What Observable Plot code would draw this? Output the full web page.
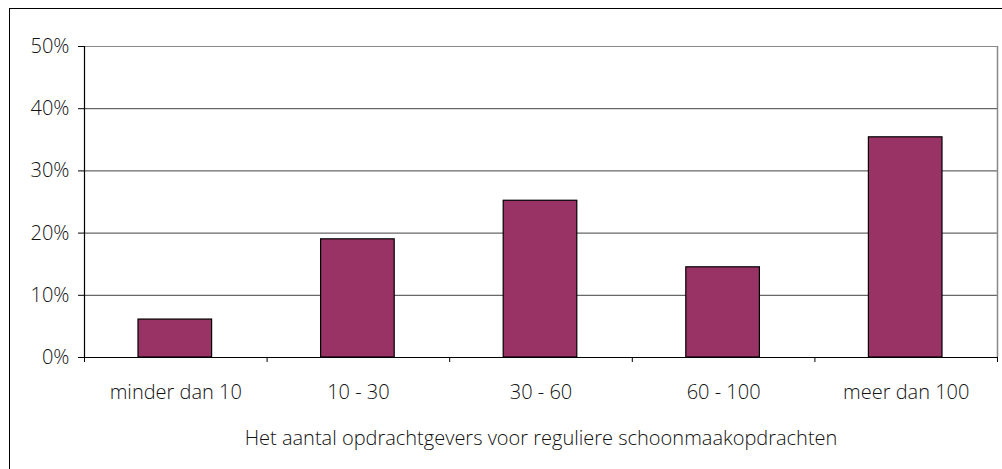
<!DOCTYPE html>
<html><head><meta charset="utf-8">
<script src="https://cdn.jsdelivr.net/npm/d3@7"></script>
<script src="https://cdn.jsdelivr.net/npm/@observablehq/plot@0.6"></script>
<style>
html,body{margin:0;padding:0;background:#fff;}
#wrap{position:relative;width:1002px;height:469px;overflow:hidden;}
#frame{position:absolute;left:9px;top:8px;width:1002px;height:470px;border-top:1px solid #000;border-left:1px solid #000;pointer-events:none;}
</style></head><body>
<div id="wrap"><div id="frame"></div></div>
<script>
const categories = ["minder dan 10", "10 - 30", "30 - 60", "60 - 100", "meer dan 100"];
const values = [0.061, 0.19, 0.252, 0.145, 0.354];
const yTicks = [0, 0.1, 0.2, 0.3, 0.4, 0.5];
const xTitle = "Het aantal opdrachtgevers voor reguliere schoonmaakopdrachten";

const data = categories.map((c, i) => ({cat: c, i, v: values[i]}));
const bounds = d3.range(categories.length + 1);

const font = "'Open Sans', Lato, sans-serif";
const chart = Plot.plot({
  width: 1002, height: 469,
  marginLeft: 84, marginRight: 5, marginTop: 46, marginBottom: 112,
  style: {fontFamily: font, fontSize: "20px", fontWeight: 300, color: "#111", background: "transparent"},
  x: {type: "linear", domain: [0, categories.length], axis: null},
  y: {domain: [0, 0.5], axis: null},
  marks: [
    Plot.ruleY(yTicks.filter(d => d > 0 && d < 0.5), {stroke: "#000", strokeOpacity: 0.75, strokeWidth: 1}),
    Plot.ruleY([0.5], {stroke: "#888", strokeWidth: 1}),
    Plot.ruleX([categories.length], {y1: 0, y2: 0.5, stroke: "#888", strokeWidth: 1.5}),
    Plot.rectY(data, {x1: "i", x2: d => d.i + 1, y: "v", fill: "#993366", stroke: "#000", strokeWidth: 1.2, insetLeft: 54, insetRight: 55}),
    Plot.ruleY([0], {stroke: "#000", strokeWidth: 1.2}),
    Plot.ruleX([0], {y1: 0, y2: 0.5, stroke: "#000", strokeWidth: 1.2}),
    Plot.axisY({ticks: yTicks, tickFormat: d3.format(".0%"), tickSize: 6, tickPadding: 9, stroke: "#000", fontSize: 20, fill: "#111", label: null}),
    Plot.axisX({ticks: bounds, tickFormat: () => "", tickSize: 5, stroke: "#000", label: null}),
    Plot.text(data, {x: d => d.i + 0.5, y: 0, text: "cat", dy: 35, fontSize: 20, fill: "#111"}),
    Plot.text([xTitle], {x: categories.length / 2, y: 0, text: d => d, dy: 81, fontSize: 20, fill: "#111"})
  ]
});
document.getElementById("wrap").prepend(chart);
</script>
</body></html>
